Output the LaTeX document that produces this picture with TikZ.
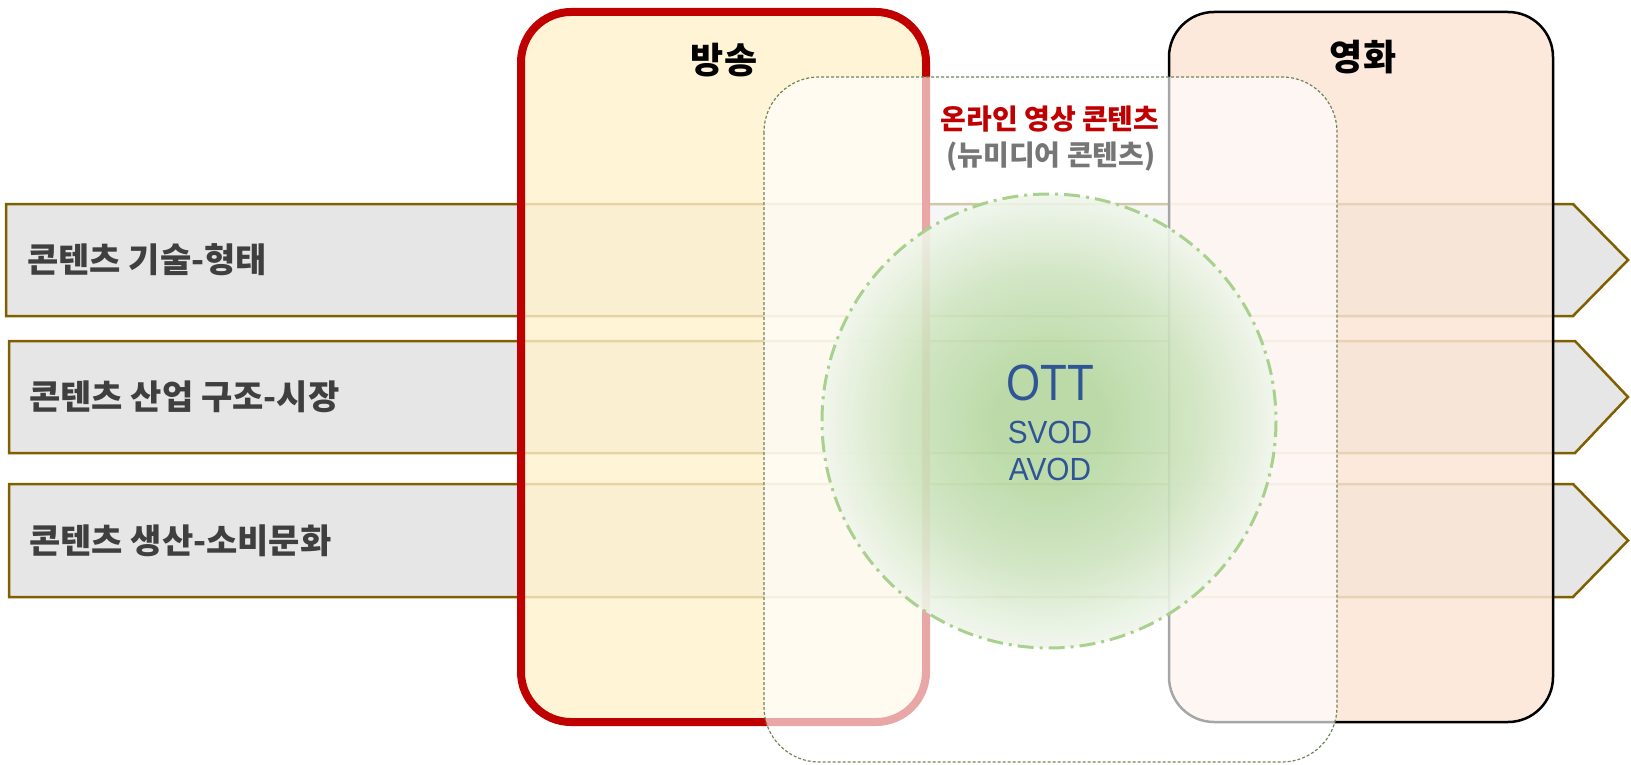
\documentclass[tikz,border=0pt]{standalone}
\usepackage{fontspec}
\setmainfont{Noto Sans CJK KR}
\newfontfamily\ottfont[FakeStretch=0.86]{Liberation Sans}
\newfontfamily\vodfont[FakeStretch=0.93]{Liberation Sans}
\definecolor{barfill}{HTML}{E6E6E6}
\definecolor{barline}{HTML}{7F6000}
\definecolor{bartxt}{HTML}{3F3F3F}
\definecolor{bangRed}{HTML}{C00000}
\definecolor{bangFill}{HTML}{FFF2CC}
\definecolor{yeongFill}{HTML}{FBE5D6}
\definecolor{dashG}{HTML}{718555}
\definecolor{circLine}{HTML}{A9D18E}
\definecolor{ottBlue}{HTML}{2F5597}
\definecolor{grayTxt}{HTML}{767676}
\definecolor{ottIn}{RGB}{180,215,158}
\definecolor{ottMid}{RGB}{205,228,190}
\definecolor{ottOut}{RGB}{240,246,236}
\pgfdeclareradialshading{ottglow}{\pgfpoint{0bp}{0bp}}{color(0bp)=(ottIn); color(6bp)=(ottIn); color(16bp)=(ottMid); color(25bp)=(ottOut); color(50bp)=(ottOut)}
\begin{document}
\begin{tikzpicture}[x=1pt,y=-1pt,
  bar/.style={fill=barfill, draw=barline, line width=2.5pt, line join=miter},
  bartext/.style={anchor=west, inner sep=0pt, text=bartxt, font=\bfseries\fontsize{34}{40}\selectfont},
  boxlabel/.style={inner sep=0pt, text=black, font=\bfseries\fontsize{36}{42}\selectfont},
  onlabel/.style={inner sep=0pt, font=\bfseries\fontsize{28}{34}\selectfont},
  ottlabel/.style={inner sep=0pt, text=ottBlue}]
\useasboundingbox (0,0) rectangle (1631,765);
% bars
\draw[bar] (6,204) -- (1573,204) -- (1628,260) -- (1573,316) -- (6,316) -- cycle;
\draw[bar] (9,341) -- (1575,341) -- (1628,397) -- (1575,453) -- (9,453) -- cycle;
\draw[bar] (9,484) -- (1573,484) -- (1628,540.5) -- (1573,597) -- (9,597) -- cycle;
\node[bartext] (t1) at (27,260) {콘텐츠 기술-형태};
\node[bartext] (t2) at (29,397) {콘텐츠 산업 구조-시장};
\node[bartext] (t3) at (29,540.5) {콘텐츠 생산-소비문화};
% boxes
\draw[line width=8pt, draw=bangRed, fill=bangFill, fill opacity=0.8, rounded corners=50pt] (521,12) rectangle (926,722);
\draw[line width=2.5pt, draw=black, fill=yeongFill, fill opacity=0.85, rounded corners=45pt] (1169,12) rectangle (1553,722);
\node[boxlabel] (bang) at (724,60) {방송};
\node[boxlabel] (yeong) at (1363,57) {영화};
% online box
\draw[draw=dashG, line width=1.2pt, dash pattern=on 3pt off 2pt, fill=white, fill opacity=0.65, rounded corners=55pt] (764,77) rectangle (1337,762);
\node[onlabel, text=bangRed] (online) at (1050,119) {온라인 영상 콘텐츠};
\node[onlabel, text=grayTxt] (newmedia) at (1051,157) {(뉴미디어 콘텐츠)};
% circle
\shade[shading=ottglow, fill opacity=0.88] (1049,421) circle[radius=227];
\draw[draw=circLine, line width=3pt, dash pattern=on 16pt off 6pt on 3pt off 6pt] (1049,421) circle[radius=227];
\node[ottlabel, font=\ottfont\fontsize{51}{56}\selectfont] (ott) at (1050,383) {OTT};
\node[ottlabel, font=\vodfont\fontsize{32}{36}\selectfont] (svod) at (1050,432) {SVOD};
\node[ottlabel, font=\vodfont\fontsize{32}{36}\selectfont] (avod) at (1050,469) {AVOD};
\end{tikzpicture}
\end{document}
